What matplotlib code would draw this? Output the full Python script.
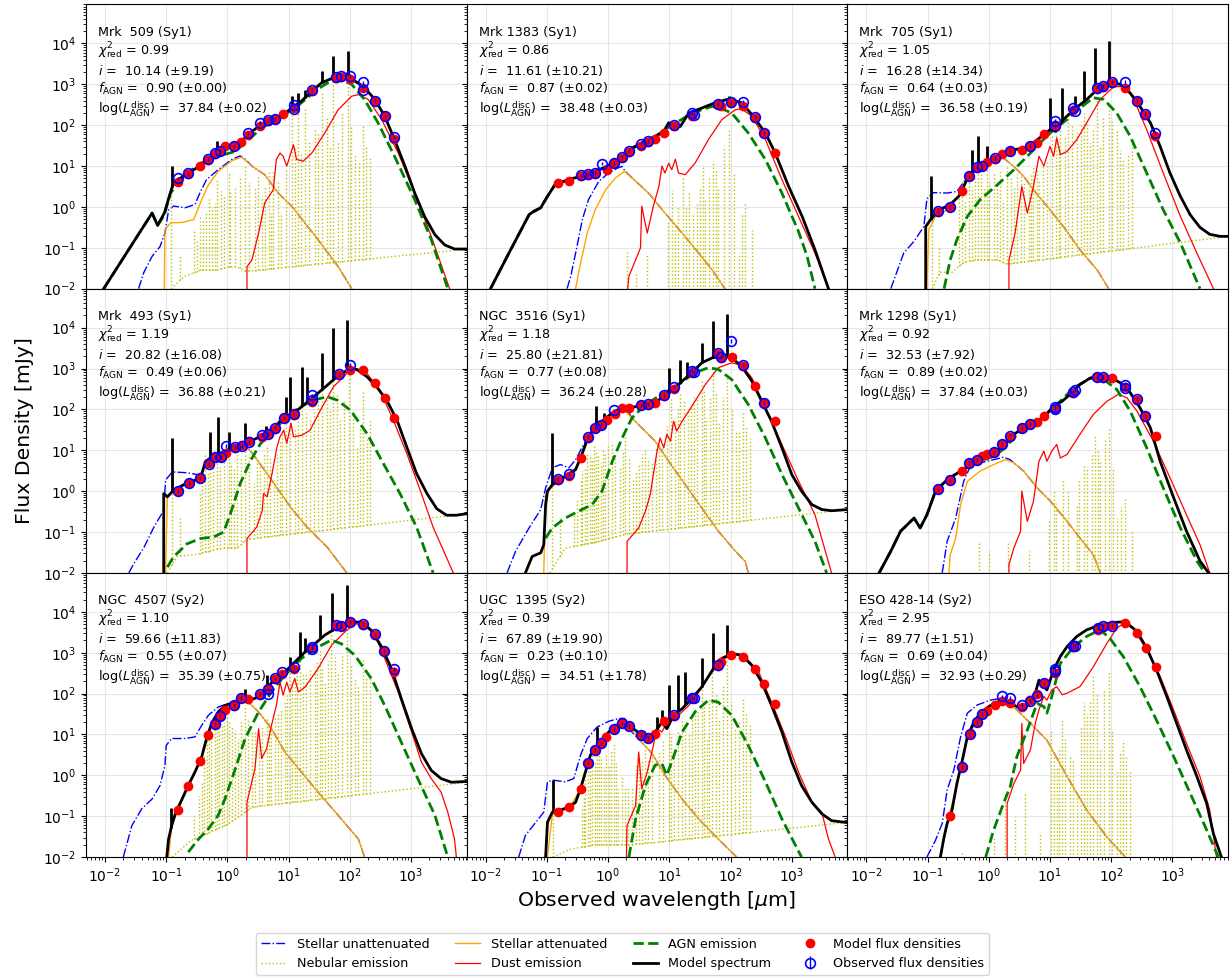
import numpy as np
import matplotlib.pyplot as plt

# fit results shown in each panel
names = ["Mrk  509 (Sy1)", "Mrk 1383 (Sy1)", "Mrk  705 (Sy1)",
         "Mrk  493 (Sy1)", "NGC  3516 (Sy1)", "Mrk 1298 (Sy1)",
         "NGC  4507 (Sy2)", "UGC  1395 (Sy2)", "ESO 428-14 (Sy2)"]
chi2_red = [0.99, 0.86, 1.05, 1.19, 1.18, 0.92, 1.10, 0.39, 2.95]
incl = [10.14, 11.61, 16.28, 20.82, 25.80, 32.53, 59.66, 67.89, 89.77]
incl_err = [9.19, 10.21, 14.34, 16.08, 21.81, 7.92, 11.83, 19.90, 1.51]
f_agn = [0.90, 0.87, 0.64, 0.49, 0.77, 0.89, 0.55, 0.23, 0.69]
f_agn_err = [0.00, 0.02, 0.03, 0.06, 0.08, 0.02, 0.07, 0.10, 0.04]
log_ldisc = [37.84, 38.48, 36.58, 36.88, 36.24, 37.84, 35.39, 34.51, 32.93]
log_ldisc_err = [0.02, 0.03, 0.19, 0.21, 0.28, 0.03, 0.75, 1.78, 0.29]

# all curves below: (log10 wavelength [um], log10 flux [mJy])
stellar_unatt = [
    [(-1.45, -2), (-1.37, -1.62), (-1.23, -1.21), (-1.1, -0.97), (-1.02, -0.64), (-0.96, -0.07), (-0.88, 0.02),
     (-0.69, -0.02), (-0.53, 0.06), (-0.45, 0.34), (-0.34, 0.67), (-0.15, 0.91), (0.07, 1.16), (0.21, 1.25),
     (0.29, 1.17), (0.4, 1.0), (0.61, 0.79), (0.83, 0.34), (1.05, 0.02), (1.48, -0.8), (1.81, -1.46), (2.03, -2)],
    [(-0.67, -2), (-0.61, -1.7), (-0.53, -1.13), (-0.42, -0.31), (-0.32, 0.18), (-0.15, 0.63), (0.01, 0.83),
     (0.15, 0.95), (0.23, 0.99), (0.28, 0.87), (0.45, 0.63), (0.66, 0.34), (0.93, -0.15), (1.21, -0.64),
     (1.48, -1.13), (1.7, -1.54), (1.91, -2)],
    [(-1.6, -2), (-1.39, -1.13), (-1.22, -0.84), (-1.06, -0.48), (-1.01, 0.2), (-0.9, 0.35), (-0.68, 0.34),
     (-0.52, 0.38), (-0.38, 0.67), (-0.19, 1.0), (0.03, 1.17), (0.19, 1.2), (0.24, 1.2), (0.41, 0.99),
     (0.57, 0.75), (0.73, 0.42), (0.95, 0.02), (1.22, -0.48), (1.49, -1.05), (1.77, -1.54), (1.96, -2)],
    [(-1.61, -2), (-1.53, -1.78), (-1.36, -1.37), (-1.2, -0.88), (-1.04, -0.47), (-1.01, 0.27), (-0.9, 0.47),
     (-0.66, 0.45), (-0.44, 0.39), (-0.36, 0.68), (-0.22, 0.84), (0.0, 1.0), (0.21, 1.12), (0.32, 1.08),
     (0.43, 0.88), (0.59, 0.55), (0.76, 0.19), (1.03, -0.39), (1.3, -0.88), (1.63, -1.37), (1.95, -2)],
    [(-1.65, -2), (-1.51, -1.47), (-1.29, -0.9), (-1.1, -0.45), (-1.02, 0.08), (-0.91, 0.57), (-0.78, 0.65),
     (-0.64, 0.57), (-0.53, 0.77), (-0.4, 1.14), (-0.26, 1.51), (-0.1, 1.71), (0.07, 1.88), (0.23, 1.96),
     (0.34, 1.92), (0.39, 1.79), (0.55, 1.55), (0.77, 1.22), (0.99, 0.73), (1.26, 0.16), (1.53, -0.41),
     (1.8, -0.98), (2.08, -1.47), (2.24, -1.72), (2.29, -2)],
    [(-0.76, -2), (-0.68, -1.23), (-0.54, -0.66), (-0.41, 0.24), (-0.3, 0.61), (-0.14, 0.69), (0.08, 0.77),
     (0.24, 0.83), (0.35, 0.77), (0.41, 0.69), (0.57, 0.49), (0.79, 0.08), (1.01, -0.25), (1.28, -0.74),
     (1.49, -1.15), (1.71, -1.56), (1.82, -2)],
    [(-1.7, -2), (-1.56, -1.23), (-1.4, -0.82), (-1.23, -0.58), (-1.1, -0.25), (-1.02, 0.24), (-1.0, 0.73),
     (-0.91, 0.9), (-0.69, 0.9), (-0.53, 0.94), (-0.42, 1.22), (-0.31, 1.47), (-0.15, 1.67), (0.07, 1.79),
     (0.23, 1.88), (0.32, 1.84), (0.4, 1.71), (0.51, 1.55), (0.72, 1.14), (0.94, 0.57), (1.21, 0.08),
     (1.48, -0.41), (1.81, -0.98), (2.14, -1.56), (2.24, -2)],
    [(-1.46, -2), (-1.35, -1.47), (-1.18, -1.15), (-1.05, -0.9), (-0.99, -0.16), (-0.89, -0.12), (-0.7, -0.16),
     (-0.56, -0.08), (-0.45, 0.49), (-0.34, 0.9), (-0.18, 1.18), (0.01, 1.32), (0.17, 1.39), (0.27, 1.39),
     (0.39, 1.06), (0.55, 0.81), (0.72, 0.53), (0.93, 0.0), (1.21, -0.58), (1.48, -1.07), (1.8, -1.56), (2.1, -2)],
    [(-1.01, -2), (-0.87, -1.59), (-0.76, -1.18), (-0.68, -0.36), (-0.57, 0.13), (-0.46, 0.94), (-0.35, 1.52),
     (-0.19, 1.72), (0.03, 1.84), (0.19, 1.88), (0.3, 1.84), (0.46, 1.6), (0.68, 1.27), (0.95, 0.86),
     (1.28, -0.03), (1.6, -0.85), (1.93, -1.51), (2.23, -2)],
]

stellar_att = [
    [(-1.03, -2), (-1.02, -0.56), (-0.93, -0.39), (-0.74, -0.38), (-0.55, -0.31), (-0.42, 0.18), (-0.31, 0.54),
     (-0.15, 0.87), (0.07, 1.13), (0.23, 1.22), (0.4, 1.0), (0.61, 0.79), (0.83, 0.34), (1.05, 0.02),
     (1.48, -0.8), (1.81, -1.46), (2.03, -2)],
    [(-0.53, -2), (-0.45, -1.38), (-0.34, -0.64), (-0.21, -0.07), (-0.04, 0.42), (0.12, 0.71), (0.27, 0.87),
     (0.45, 0.63), (0.66, 0.34), (0.93, -0.15), (1.21, -0.64), (1.48, -1.13), (1.7, -1.54), (1.91, -2)],
    [(-1.01, -2), (-0.98, -0.56), (-0.87, -0.23), (-0.68, -0.07), (-0.49, 0.26), (-0.35, 0.71), (-0.14, 1.0),
     (0.08, 1.16), (0.24, 1.2), (0.41, 0.99), (0.57, 0.75), (0.73, 0.42), (0.95, 0.02), (1.22, -0.48),
     (1.49, -1.05), (1.77, -1.54), (1.96, -2)],
    [(-1.01, -2), (-0.98, -0.14), (-0.88, 0.02), (-0.66, 0.19), (-0.44, 0.29), (-0.36, 0.68), (-0.22, 0.84),
     (0.0, 0.99), (0.21, 1.08), (0.32, 1.08), (0.43, 0.88), (0.59, 0.55), (0.76, 0.19), (1.03, -0.39),
     (1.3, -0.88), (1.63, -1.37), (1.95, -2)],
    [(-1.05, -2), (-1.02, -0.08), (-0.91, 0.12), (-0.7, 0.32), (-0.53, 0.49), (-0.45, 0.77), (-0.34, 1.22),
     (-0.21, 1.55), (-0.04, 1.75), (0.12, 1.88), (0.28, 1.96), (0.39, 1.79), (0.55, 1.55), (0.77, 1.22),
     (0.99, 0.73), (1.26, 0.16), (1.53, -0.41), (1.8, -0.98), (2.08, -1.47), (2.24, -1.72), (2.29, -2)],
    [(-0.65, -2), (-0.63, -1.56), (-0.54, -1.15), (-0.46, -0.33), (-0.35, 0.24), (-0.14, 0.49), (0.08, 0.65),
     (0.27, 0.77), (0.41, 0.69), (0.57, 0.49), (0.79, 0.08), (1.01, -0.25), (1.28, -0.74), (1.49, -1.15),
     (1.71, -1.56), (1.82, -2)],
    [(-0.96, -2), (-0.91, -1.23), (-0.74, -0.6), (-0.53, 0.05), (-0.42, 0.42), (-0.34, 0.88), (-0.26, 1.24),
     (-0.15, 1.52), (0.13, 1.77), (0.3, 1.8), (0.4, 1.71), (0.51, 1.55), (0.72, 1.14), (0.94, 0.57),
     (1.21, 0.08), (1.48, -0.41), (1.81, -0.98), (2.14, -1.56), (2.24, -2)],
    [(-0.99, -2), (-0.91, -0.95), (-0.64, -0.8), (-0.45, -0.35), (-0.29, 0.47), (-0.04, 0.96), (0.23, 1.28),
     (0.39, 1.1), (0.55, 0.81), (0.72, 0.53), (0.93, 0.0), (1.21, -0.58), (1.48, -1.07), (1.8, -1.56), (2.1, -2)],
    [(-0.79, -2), (-0.68, -1.2), (-0.52, -0.22), (-0.35, 0.92), (-0.14, 1.5), (0.24, 1.8), (0.46, 1.6),
     (0.68, 1.27), (0.95, 0.86), (1.28, -0.03), (1.6, -0.85), (1.93, -1.51), (2.23, -2)],
]

nebular_cont = [
    [(-0.92, -2), (-0.7, -1.7), (-0.45, -1.55), (-0.2, -1.55), (0.1, -1.45), (0.2, -1.5), (0.3, -1.58), (3.92, -1.03)],
    [(-1.0, -2.3), (3.92, -2.3)],
    [(-0.92, -2), (-0.8, -1.6), (-0.6, -1.6), (-0.4, -1.35), (-0.2, -1.3), (0.15, -1.3), (0.3, -1.4), (3.92, -0.72)],
    [(-0.98, -2), (-0.82, -1.6), (-0.5, -1.55), (-0.1, -1.4), (0.15, -1.4), (0.32, -1.18), (3.92, -0.55)],
    [(-0.95, -2), (-0.7, -1.4), (-0.2, -1.25), (0.3, -1.05), (3.92, -0.45)],
    [(-1.0, -2.3), (3.92, -2.3)],
    [(-0.9, -2), (-0.6, -1.6), (-0.3, -1.4), (0.0, -1.2), (0.2, -1.0), (0.4, -0.78), (3.92, -0.17)],
    [(-0.9, -2), (-0.6, -1.8), (-0.2, -1.7), (0.4, -1.7), (3.92, -1.15)],
    [(-1.0, -2.3), (3.92, -2.3)],
]

# nebular emission lines: (log10 wavelength, log10 peak)
nebular_lines = [
    [(-0.92, 0.34), (-0.77, -1.2), (-0.55, -0.6), (-0.45, -0.2), (-0.4, -0.3), (-0.3, 0.2), (-0.25, 0.0),
     (-0.17, 0.67), (-0.05, 0.3), (0.02, 0.83), (0.13, 0.5), (0.29, 1.0), (0.45, 0.5), (0.56, 0.26), (0.62, 0.5),
     (0.72, -0.15), (0.75, 0.9), (0.88, -0.15), (1.05, 2.38), (1.16, 2.45), (1.27, 2.45), (1.43, 1.9),
     (1.54, 2.83), (1.73, 3.1), (1.81, 1.6), (1.97, 2.95), (2.08, 1.3), (2.22, 2.0), (2.33, 1.2),
     (-0.5, -0.8), (-0.35, -0.1), (-0.2, 0.1), (-0.1, 0.4), (0.05, 0.4), (0.2, 0.7), (0.35, 0.6), (0.5, 0.8),
     (0.68, 0.9), (0.82, 0.6), (0.95, 0.9), (1.1, 1.5), (1.2, 1.3), (1.33, 1.6), (1.48, 1.8), (1.62, 2.2),
     (1.68, 1.5), (1.88, 2.3), (2.02, 2.0), (2.15, 1.1), (2.27, 1.5)],
    [(0.31, -1.05), (0.46, -1.64), (0.64, -1.15), (0.98, -0.35), (1.05, 0.42), (1.15, 0.0), (1.23, 0.75),
     (1.33, 0.34), (1.45, 0.06), (1.55, 1.0), (1.59, 0.18), (1.72, 1.12), (1.8, 0.5), (1.98, 1.93),
     (2.14, -1.13), (2.24, 0.1), (2.35, -0.56),
     (1.1, -0.5), (1.28, 0.0), (1.38, -0.2), (1.5, 0.5), (1.65, 0.7), (1.77, 0.9), (1.9, 1.5), (2.05, 0.8),
     (2.18, -0.2)],
    [(-0.92, -0.07), (-0.82, -0.97), (-0.43, 0.67), (-0.38, 0.18), (-0.27, 0.5), (-0.18, 0.99), (-0.08, 0.5),
     (-0.03, 0.99), (0.08, 0.83), (0.24, 0.18), (0.3, 0.99), (0.41, 0.5), (0.52, 0.75), (0.65, 0.5), (0.73, 0.99),
     (0.82, 0.67), (0.95, 1.16), (1.03, 1.73), (1.1, 1.97), (1.17, 1.89), (1.3, 2.3), (1.44, 1.89), (1.56, 2.3),
     (1.66, 1.57), (1.76, 2.67), (1.82, 1.48), (1.96, 2.55), (2.09, 1.89), (2.2, 1.16), (2.34, 1.57),
     (-0.48, 0.3), (-0.33, 0.6), (-0.23, 0.7), (-0.13, 0.8), (0.0, 0.6), (0.13, 0.6), (0.19, 0.9), (0.36, 0.7),
     (0.46, 0.8), (0.58, 0.6), (0.69, 0.8), (0.78, 0.9), (0.88, 1.0), (1.14, 1.5), (1.24, 1.7), (1.36, 2.0),
     (1.5, 2.0), (1.61, 2.1), (1.7, 1.9), (1.86, 2.2), (2.02, 2.1), (2.14, 1.4), (2.27, 1.3)],
    [(-0.9, 1.0), (-0.77, -0.67), (-0.41, 0.27), (-0.36, 0.92), (-0.29, 0.68), (-0.17, 0.92), (-0.06, 0.76),
     (0.02, 0.84), (0.1, 0.59), (0.29, 1.17), (0.43, 0.19), (0.54, 0.68), (0.65, 1.08), (0.76, 0.27),
     (0.86, 1.25), (0.95, 1.98), (1.03, 2.06), (1.11, 1.57), (1.22, 2.55), (1.35, 1.74), (1.54, 2.47),
     (1.73, 2.96), (1.84, 1.74), (1.98, 3.13), (2.11, 1.08), (2.22, 2.47), (2.33, 1.74),
     (-0.45, 0.0), (-0.32, 0.5), (-0.24, 0.7), (-0.12, 0.6), (0.06, 0.7), (0.15, 0.9), (0.22, 0.8), (0.36, 0.9),
     (0.48, 0.7), (0.6, 0.9), (0.7, 0.8), (0.81, 0.9), (0.9, 1.5), (1.16, 2.0), (1.28, 1.9), (1.42, 2.0),
     (1.48, 2.2), (1.62, 2.3), (1.68, 2.0), (1.79, 2.4), (1.9, 2.2), (2.05, 2.0), (2.17, 1.6), (2.28, 1.3)],
    [(-0.91, 0.2), (-0.78, -0.6), (-0.55, -0.5), (-0.45, 0.3), (-0.38, 0.6), (-0.34, 0.9), (-0.27, 0.8),
     (-0.2, 1.0), (-0.12, 0.7), (-0.05, 0.9), (0.07, 1.2), (0.2, 0.6), (0.28, 1.4), (0.4, 0.3), (0.5, 0.7),
     (0.6, 1.0), (0.72, 0.7), (0.88, 1.2), (0.96, 1.6), (1.02, 2.3), (1.1, 1.8), (1.18, 2.4), (1.3, 2.0),
     (1.4, 2.3), (1.53, 2.7), (1.6, 1.8), (1.72, 3.0), (1.82, 1.7), (1.95, 2.9), (2.09, 1.5), (2.2, 1.9),
     (2.32, 1.3),
     (-0.5, -0.2), (-0.42, 0.5), (-0.3, 0.9), (-0.23, 1.1), (-0.16, 0.9), (-0.08, 1.0), (0.0, 1.1), (0.12, 0.9),
     (0.24, 1.0), (0.34, 0.8), (0.45, 0.5), (0.55, 0.9), (0.66, 0.8), (0.78, 1.1), (0.84, 1.3), (1.14, 2.0),
     (1.24, 2.2), (1.35, 2.1), (1.46, 2.3), (1.57, 2.5), (1.66, 2.3), (1.77, 2.4), (1.88, 2.3), (2.02, 2.0),
     (2.14, 1.5), (2.26, 1.6)],
    [(-0.16, -1.27), (0.0, -1.47), (0.32, -1.23), (0.65, -1.47), (0.98, -0.7), (1.06, 0.0), (1.22, 0.33),
     (1.44, -0.33), (1.55, 0.65), (1.74, 1.35), (1.82, 0.73), (1.97, 1.51), (2.09, -0.66), (2.23, -0.16),
     (2.34, -0.94),
     (1.1, -0.3), (1.3, 0.0), (1.48, 0.3), (1.6, 0.6), (1.68, 0.9), (1.78, 1.0), (1.9, 1.3), (2.03, 0.6),
     (2.16, -0.4)],
    [(-0.55, -1.0), (-0.42, -0.16), (-0.34, 0.9), (-0.26, 1.14), (-0.17, 1.39), (-0.09, 1.22), (-0.01, 1.47),
     (0.07, 1.22), (0.18, 0.9), (0.29, 1.71), (0.4, 1.06), (0.51, 0.9), (0.64, 1.39), (0.72, 1.14), (0.83, 1.55),
     (0.94, 1.79), (1.02, 2.61), (1.1, 2.37), (1.18, 2.86), (1.29, 2.53), (1.43, 2.61), (1.51, 3.1),
     (1.59, 2.28), (1.7, 3.59), (1.81, 2.53), (1.95, 3.75), (2.08, 2.37), (2.22, 2.86), (2.33, 2.37),
     (-0.47, -0.5), (-0.38, 0.5), (-0.3, 1.0), (-0.21, 1.2), (-0.13, 1.3), (-0.05, 1.3), (0.03, 1.3), (0.12, 1.1),
     (0.23, 1.3), (0.34, 1.4), (0.45, 1.1), (0.57, 1.2), (0.68, 1.3), (0.78, 1.4), (0.88, 1.6), (0.98, 2.0),
     (1.06, 2.3), (1.14, 2.5), (1.23, 2.5), (1.35, 2.6), (1.47, 2.8), (1.55, 2.6), (1.64, 2.8), (1.76, 2.9),
     (1.88, 3.0), (2.02, 2.7), (2.14, 2.2), (2.27, 2.4)],
    [(-0.9, -0.9), (-0.42, -0.74), (-0.37, 0.0), (-0.29, 0.41), (-0.22, 0.3), (-0.15, 0.57), (-0.07, 0.2),
     (0.01, 0.24), (0.09, 0.81), (0.17, -0.33), (0.28, -0.25), (0.39, -0.25), (0.5, 0.49), (0.61, 0.65),
     (0.83, 0.57), (0.99, 1.06), (1.07, 0.49), (1.21, 1.39), (1.32, 1.06), (1.42, 1.55), (1.53, 2.12),
     (1.61, 0.9), (1.7, 2.53), (1.81, 1.39), (1.94, 2.86), (2.08, 1.14), (2.21, 1.88), (2.32, 1.22),
     (-0.4, -0.5), (-0.33, 0.3), (-0.26, 0.5), (-0.18, 0.5), (-0.11, 0.4), (-0.03, 0.5), (0.05, 0.6), (0.13, 0.3),
     (0.22, 0.0), (0.33, -0.3), (0.45, 0.3), (0.55, 0.4), (0.66, 0.4), (0.72, 0.5), (0.9, 0.9), (1.03, 1.0),
     (1.14, 1.1), (1.26, 1.3), (1.37, 1.5), (1.47, 1.6), (1.57, 1.8), (1.65, 1.9), (1.76, 2.0), (1.87, 2.2),
     (2.0, 1.8), (2.14, 1.3), (2.26, 1.5)],
    [(-0.43, -1.87), (0.08, -1.5), (0.27, -0.44), (0.43, -1.02), (0.6, -0.46), (0.84, -1.38), (1.01, 1.11),
     (1.11, 0.21), (1.2, 1.35), (1.33, 0.46), (1.44, -0.53), (1.55, 1.76), (1.71, 2.42), (1.82, 0.62),
     (1.96, 2.58), (2.09, 0.13), (2.2, 0.86), (2.31, 0.13),
     (1.06, 0.5), (1.15, 0.7), (1.25, 0.9), (1.38, 0.4), (1.5, 1.2), (1.6, 1.5), (1.66, 1.8), (1.76, 2.0),
     (1.88, 2.1), (2.02, 1.1), (2.14, 0.6), (2.25, 0.5)],
]

dust = [
    [(0.32, -2), (0.32, -1.46), (0.4, -1.3), (0.51, -0.64), (0.61, 0.1), (0.75, 0.42), (0.8, 1.16), (0.86, 1.32),
     (0.91, 1.24), (0.97, 1.0), (1.02, 1.24), (1.08, 1.52), (1.13, 1.16), (1.24, 1.12), (1.38, 1.32),
     (1.59, 1.81), (1.81, 2.38), (2.03, 2.71), (2.14, 2.75), (2.3, 2.63), (2.52, 2.14), (2.79, 1.32),
     (3.06, 0.34), (3.33, -0.72), (3.63, -2)],
    [(0.32, -2), (0.34, -1.7), (0.53, -1.0), (0.55, 0.02), (0.64, -0.64), (0.74, 0.02), (0.83, 0.5), (0.88, 1.0),
     (0.93, 0.83), (0.99, 1.07), (1.04, 0.91), (1.1, 1.17), (1.15, 0.83), (1.26, 0.79), (1.42, 1.07),
     (1.64, 1.65), (1.86, 2.14), (2.08, 2.38), (2.18, 2.4), (2.35, 2.22), (2.57, 1.65), (2.84, 0.67),
     (3.11, -0.23), (3.38, -1.13), (3.6, -2)],
    [(0.33, -2), (0.33, -1.3), (0.43, -0.64), (0.54, 0.5), (0.63, -0.15), (0.73, 0.5), (0.82, 1.24), (0.9, 1.0),
     (0.95, 1.24), (1.0, 1.48), (1.06, 1.24), (1.11, 1.69), (1.17, 1.28), (1.28, 1.36), (1.44, 1.65),
     (1.6, 2.06), (1.82, 2.63), (2.04, 2.94), (2.2, 2.95), (2.36, 2.67), (2.58, 1.89), (2.85, 0.83),
     (3.13, -0.23), (3.4, -1.13), (3.67, -2)],
    [(0.32, -2), (0.32, -1.16), (0.48, -0.88), (0.57, -0.47), (0.59, -0.06), (0.65, -0.14), (0.73, 0.43),
     (0.81, 1.08), (0.86, 1.33), (0.92, 1.49), (0.97, 1.17), (1.04, 1.66), (1.08, 1.33), (1.22, 1.37),
     (1.35, 1.49), (1.52, 1.98), (1.73, 2.55), (1.95, 2.88), (2.11, 3.0), (2.28, 2.88), (2.49, 2.47),
     (2.71, 1.74), (2.93, 0.92), (3.15, 0.02), (3.36, -0.88), (3.69, -2)],
    [(0.31, -2), (0.31, -1.23), (0.5, -0.9), (0.61, -0.49), (0.69, -0.08), (0.74, 0.41), (0.8, 0.98), (0.85, 1.3),
     (0.91, 1.06), (0.96, 1.39), (1.02, 1.22), (1.07, 1.71), (1.12, 1.47), (1.21, 1.71), (1.37, 2.08),
     (1.59, 2.61), (1.8, 3.02), (2.02, 3.14), (2.18, 3.08), (2.35, 2.77), (2.57, 2.04), (2.84, 1.14),
     (3.11, 0.25), (3.38, -0.58), (3.65, -2)],
    [(0.33, -2), (0.33, -1.8), (0.41, -1.39), (0.52, -0.98), (0.54, 0.0), (0.63, -0.74), (0.73, -0.25),
     (0.82, 0.73), (0.9, 0.98), (0.95, 0.73), (1.03, 0.98), (1.11, 1.14), (1.17, 0.81), (1.28, 0.9),
     (1.49, 1.39), (1.71, 1.88), (1.93, 2.2), (2.12, 2.37), (2.26, 2.28), (2.42, 1.96), (2.69, 1.22),
     (2.96, 0.33), (3.23, -0.58), (3.45, -1.31), (3.61, -2)],
    [(0.32, -2), (0.32, -0.66), (0.45, 0.16), (0.51, 1.14), (0.56, 0.41), (0.64, 0.65), (0.72, 1.22), (0.8, 1.71),
     (0.86, 2.28), (0.91, 1.96), (0.97, 2.28), (1.02, 2.04), (1.1, 2.37), (1.16, 2.04), (1.27, 2.16),
     (1.48, 2.61), (1.7, 3.18), (1.92, 3.51), (2.08, 3.71), (2.24, 3.67), (2.41, 3.43), (2.57, 2.86),
     (2.79, 2.04), (3.01, 1.06), (3.17, 0.32), (3.33, -0.08), (3.49, -0.41), (3.6, -0.9), (3.71, -1.56),
     (3.74, -2)],
    [(0.3, -2), (0.31, -1.23), (0.45, -0.74), (0.5, 0.57), (0.55, -0.33), (0.64, 0.08), (0.74, 0.73), (0.8, 1.14),
     (0.88, 1.06), (0.96, 1.3), (1.04, 1.39), (1.15, 1.47), (1.32, 1.71), (1.48, 2.04), (1.7, 2.53),
     (1.91, 2.87), (2.08, 2.95), (2.24, 2.9), (2.46, 2.53), (2.67, 1.79), (2.89, 0.98), (3.11, 0.08),
     (3.33, -0.66), (3.49, -0.9), (3.6, -1.56), (3.71, -2)],
    [(0.3, -2), (0.3, -0.69), (0.41, -0.2), (0.52, 0.13), (0.54, 1.27), (0.57, 0.29), (0.68, 0.62), (0.76, 1.27),
     (0.82, 1.6), (0.9, 1.93), (0.95, 1.84), (1.03, 2.09), (1.11, 2.17), (1.2, 1.97), (1.28, 2.01),
     (1.49, 2.17), (1.71, 2.66), (1.93, 3.23), (2.09, 3.6), (2.2, 3.71), (2.36, 3.6), (2.58, 3.07),
     (2.8, 2.42), (3.02, 1.6), (3.23, 0.78), (3.45, -0.03), (3.61, -0.85), (3.72, -2)],
]

agn = [
    [(-2.02, -2), (-1.23, -0.15), (-1.14, -0.45), (-1.03, -0.2), (-0.93, 0.34), (-0.69, 0.79), (-0.42, 1.08),
     (-0.15, 1.24), (0.13, 1.36), (0.29, 1.57), (0.56, 1.93), (0.94, 2.26), (1.21, 2.55), (1.48, 2.89),
     (1.7, 3.09), (1.86, 3.12), (2.03, 3.0), (2.24, 2.63), (2.46, 2.06), (2.73, 1.24), (3.06, 0.18),
     (3.33, -0.8), (3.6, -2)],
    [(-1.92, -2), (-1.62, -1.13), (-1.29, -0.19), (-1.1, -0.02), (-0.99, 0.26), (-0.86, 0.56), (-0.45, 0.75),
     (-0.04, 0.97), (0.23, 1.2), (0.39, 1.42), (0.55, 1.55), (0.77, 1.71), (0.99, 1.95), (1.32, 2.25),
     (1.53, 2.38), (1.7, 2.46), (1.86, 2.4), (2.02, 2.3), (2.29, 1.81), (2.57, 1.16), (2.84, 0.34),
     (3.11, -0.6), (3.25, -1.2), (3.38, -2)],
    [(-0.73, -2), (-0.63, -1.3), (-0.52, -0.8), (-0.35, -0.23), (-0.14, 0.18), (0.14, 0.54), (0.41, 0.91),
     (0.63, 1.24), (0.84, 1.57), (1.06, 1.89), (1.28, 2.14), (1.49, 2.42), (1.71, 2.67), (1.88, 2.63),
     (2.09, 2.3), (2.31, 1.73), (2.58, 0.83), (2.85, -0.07), (3.13, -0.88), (3.45, -2)],
    [(-0.98, -1.86), (-0.88, -1.61), (-0.66, -1.29), (-0.44, -1.16), (-0.22, -1.12), (-0.06, -1.0),
     (0.05, -0.55), (0.21, 0.19), (0.38, 0.75), (0.54, 1.16), (0.76, 1.49), (0.97, 1.82), (1.19, 2.06),
     (1.41, 2.23), (1.63, 2.31), (1.79, 2.23), (2.01, 1.98), (2.28, 1.41), (2.55, 0.67), (2.82, -0.06),
     (3.09, -0.88), (3.36, -2)],
    [(-1.02, -1.15), (-0.91, -0.9), (-0.7, -0.66), (-0.48, -0.49), (-0.26, -0.33), (-0.1, 0.0), (0.07, 0.73),
     (0.23, 1.3), (0.39, 1.79), (0.61, 2.12), (0.88, 2.37), (1.15, 2.61), (1.42, 2.9), (1.64, 3.02),
     (1.8, 2.98), (2.02, 2.73), (2.29, 2.12), (2.57, 1.3), (2.84, 0.41), (3.11, -0.41), (3.38, -1.23),
     (3.57, -2)],
    [(-1.79, -2), (-1.6, -1.47), (-1.44, -0.98), (-1.22, -0.66), (-1.12, -0.9), (-1.01, -0.58), (-0.87, 0.0),
     (-0.68, 0.28), (-0.46, 0.49), (-0.3, 0.61), (-0.14, 0.73), (0.08, 0.85), (0.27, 1.06), (0.46, 1.39),
     (0.73, 1.63), (1.06, 2.04), (1.39, 2.53), (1.66, 2.76), (1.88, 2.73), (2.09, 2.49), (2.31, 1.96),
     (2.58, 1.06), (2.85, 0.08), (3.13, -0.9), (3.4, -1.71), (3.53, -2)],
    [(-0.64, -1.88), (-0.47, -1.56), (-0.31, -1.31), (-0.15, -0.98), (-0.04, -0.58), (0.13, 0.16), (0.29, 0.9),
     (0.51, 1.55), (0.72, 2.04), (0.94, 2.45), (1.21, 2.86), (1.48, 3.14), (1.7, 3.31), (1.86, 3.22),
     (2.08, 2.94), (2.35, 2.37), (2.57, 1.71), (2.84, 0.81), (3.11, -0.08), (3.39, -0.98), (3.6, -2)],
    [(0.34, -2), (0.45, -1.07), (0.61, -0.25), (0.77, 0.25), (0.88, 0.28), (0.96, 0.0), (1.04, 0.33),
     (1.21, 1.06), (1.42, 1.55), (1.64, 1.84), (1.8, 1.79), (2.02, 1.47), (2.29, 0.73), (2.57, -0.16),
     (2.84, -1.07), (3.16, -2)],
    [(-0.05, -2), (0.08, -1.34), (0.24, -0.69), (0.35, -0.28), (0.46, 0.46), (0.63, 1.11), (0.79, 1.76),
     (0.9, 1.68), (0.95, 1.52), (1.03, 1.93), (1.17, 2.74), (1.39, 3.15), (1.6, 3.4), (1.82, 3.56),
     (1.98, 3.35), (2.2, 2.9), (2.47, 2.17), (2.74, 1.35), (3.02, 0.46), (3.29, -0.44), (3.56, -1.34),
     (3.75, -2)],
]

model = [
    [(-2.02, -2.0), (-1.23, -0.15), (-1.14, -0.45), (-1.03, -0.15), (-0.9, 0.5), (-0.85, 0.62), (-0.64, 0.83),
     (-0.45, 1.0), (-0.31, 1.17), (-0.12, 1.36), (0.1, 1.5), (0.23, 1.6), (0.34, 1.78), (0.53, 1.99),
     (0.78, 2.14), (0.91, 2.26), (1.08, 2.45), (1.21, 2.59), (1.38, 2.83), (1.54, 3.04), (1.7, 3.14),
     (1.86, 3.18), (2.03, 3.13), (2.22, 2.95), (2.41, 2.63), (2.57, 2.22), (2.73, 1.65), (2.9, 1.0),
     (3.06, 0.34), (3.22, -0.23), (3.39, -0.68), (3.55, -0.93), (3.71, -1.03), (3.92, -1.03)],
    [(-1.92, -2), (-1.62, -1.13), (-1.29, -0.19), (-1.21, -0.1), (-1.1, -0.02), (-0.99, 0.26), (-0.86, 0.56),
     (-0.64, 0.67), (-0.45, 0.75), (-0.21, 0.87), (-0.04, 0.98), (0.09, 1.08), (0.23, 1.24), (0.39, 1.44),
     (0.55, 1.57), (0.77, 1.73), (0.91, 1.85), (0.99, 2.06), (1.07, 1.97), (1.18, 1.97), (1.32, 2.3),
     (1.53, 2.42), (1.75, 2.55), (1.97, 2.64), (2.18, 2.55), (2.35, 2.26), (2.57, 1.81), (2.73, 1.32),
     (2.95, 0.5), (3.17, -0.23), (3.38, -1.05), (3.6, -2)],
    [(-1.03, -2), (-1.03, -0.48), (-0.95, -0.31), (-0.82, -0.08), (-0.63, 0.06), (-0.49, 0.26), (-0.41, 0.5),
     (-0.33, 0.75), (-0.19, 0.95), (-0.03, 1.09), (0.11, 1.2), (0.24, 1.3), (0.41, 1.4), (0.57, 1.44),
     (0.73, 1.57), (0.9, 1.77), (1.0, 1.89), (1.09, 1.85), (1.22, 2.14), (1.39, 2.38), (1.6, 2.63),
     (1.77, 2.87), (1.98, 3.04), (2.15, 3.0), (2.31, 2.79), (2.47, 2.46), (2.64, 2.06), (2.8, 1.48),
     (2.96, 0.83), (3.13, 0.26), (3.29, -0.19), (3.45, -0.5), (3.61, -0.67), (3.78, -0.72), (3.92, -0.72)],
    [(-1.04, -2), (-1.04, -0.06), (-0.98, -0.14), (-0.88, 0.02), (-0.66, 0.2), (-0.44, 0.31), (-0.36, 0.72),
     (-0.22, 0.88), (-0.06, 0.96), (0.1, 1.08), (0.27, 1.17), (0.43, 1.26), (0.59, 1.37), (0.76, 1.53),
     (0.92, 1.82), (1.08, 1.9), (1.24, 2.1), (1.41, 2.31), (1.6, 2.55), (1.79, 2.8), (1.98, 2.98),
     (2.11, 2.98), (2.28, 2.8), (2.44, 2.55), (2.6, 2.23), (2.77, 1.74), (2.93, 1.08), (3.09, 0.43),
     (3.26, -0.06), (3.42, -0.43), (3.58, -0.59), (3.74, -0.59), (3.92, -0.55)],
    [(-1.35, -2), (-1.24, -1.6), (-1.1, -1.51), (-1.05, -1.31), (-1.02, -0.33), (-0.99, 0.0), (-0.91, 0.16),
     (-0.7, 0.36), (-0.53, 0.53), (-0.45, 0.81), (-0.34, 1.26), (-0.23, 1.55), (-0.1, 1.71), (0.04, 1.88),
     (0.17, 2.0), (0.34, 2.04), (0.5, 2.08), (0.72, 2.14), (0.88, 2.28), (1.04, 2.45), (1.21, 2.69),
     (1.37, 2.9), (1.53, 3.14), (1.7, 3.26), (1.86, 3.31), (2.02, 3.26), (2.18, 3.06), (2.35, 2.69),
     (2.51, 2.2), (2.67, 1.71), (2.84, 1.06), (3.0, 0.41), (3.16, 0.0), (3.33, -0.33), (3.49, -0.45),
     (3.65, -0.48), (3.92, -0.45)],
    [(-1.79, -2), (-1.6, -1.47), (-1.44, -0.98), (-1.22, -0.66), (-1.12, -0.9), (-1.01, -0.58), (-0.87, 0.0),
     (-0.68, 0.28), (-0.46, 0.49), (-0.3, 0.65), (-0.14, 0.81), (0.03, 0.94), (0.16, 1.02), (0.27, 1.14),
     (0.41, 1.39), (0.57, 1.55), (0.73, 1.65), (0.9, 1.81), (1.06, 2.08), (1.2, 2.2), (1.33, 2.37),
     (1.49, 2.61), (1.66, 2.77), (1.82, 2.82), (1.98, 2.79), (2.15, 2.65), (2.31, 2.41), (2.47, 2.04),
     (2.64, 1.55), (2.8, 0.73), (3.02, -0.16), (3.23, -0.98), (3.45, -1.71), (3.59, -2)],
    [(-0.99, -2), (-0.96, -1.56), (-0.91, -1.23), (-0.85, -0.94), (-0.74, -0.58), (-0.64, -0.25), (-0.53, 0.08),
     (-0.42, 0.45), (-0.34, 0.9), (-0.26, 1.26), (-0.15, 1.55), (-0.04, 1.71), (0.13, 1.79), (0.23, 1.88),
     (0.37, 1.84), (0.51, 1.92), (0.64, 2.12), (0.78, 2.37), (0.94, 2.53), (1.1, 2.77), (1.27, 3.02),
     (1.43, 3.22), (1.59, 3.43), (1.81, 3.63), (2.03, 3.75), (2.19, 3.75), (2.35, 3.55), (2.52, 3.14),
     (2.68, 2.61), (2.84, 1.88), (3.01, 1.14), (3.17, 0.53), (3.33, 0.12), (3.49, -0.08), (3.66, -0.17),
     (3.92, -0.15)],
    [(-1.02, -2), (-0.99, -1.15), (-0.91, -0.9), (-0.8, -0.86), (-0.64, -0.78), (-0.53, -0.66), (-0.45, -0.33),
     (-0.37, 0.08), (-0.29, 0.49), (-0.18, 0.73), (-0.04, 0.98), (0.09, 1.18), (0.23, 1.3), (0.34, 1.22),
     (0.45, 1.1), (0.55, 0.98), (0.66, 0.9), (0.77, 1.06), (0.88, 1.3), (0.96, 1.14), (1.07, 1.47),
     (1.21, 1.63), (1.37, 1.88), (1.53, 2.16), (1.72, 2.61), (1.86, 2.86), (2.02, 2.98), (2.18, 2.94),
     (2.35, 2.69), (2.51, 2.28), (2.67, 1.71), (2.84, 1.06), (3.0, 0.33), (3.16, -0.25), (3.33, -0.66),
     (3.49, -0.94), (3.65, -1.11), (3.92, -1.16)],
    [(-0.79, -2), (-0.73, -1.51), (-0.68, -1.18), (-0.6, -0.85), (-0.52, -0.2), (-0.43, 0.38), (-0.35, 0.94),
     (-0.24, 1.31), (-0.14, 1.52), (0.0, 1.68), (0.11, 1.78), (0.24, 1.84), (0.35, 1.76), (0.46, 1.68),
     (0.57, 1.64), (0.68, 1.76), (0.76, 2.01), (0.82, 2.33), (0.87, 2.21), (0.95, 2.09), (1.06, 2.58),
     (1.17, 2.91), (1.28, 3.15), (1.44, 3.4), (1.6, 3.56), (1.82, 3.68), (2.04, 3.74), (2.23, 3.76),
     (2.42, 3.52), (2.58, 3.11), (2.74, 2.58), (2.91, 1.92), (3.07, 1.27), (3.23, 0.62), (3.4, -0.03),
     (3.56, -0.69), (3.67, -1.43), (3.8, -2)],
]

# emission-line spikes on top of the model spectrum: (log10 wavelength, log10 peak)
model_lines = [
    [(-0.9, 1.0), (-0.17, 1.62), (-0.09, 1.45), (0.02, 1.53), (1.05, 2.71), (1.16, 2.8), (1.27, 2.85),
     (1.54, 3.32), (1.73, 3.69), (1.97, 3.81)],
    [(1.97, 2.72)],
    [(-0.95, 0.75), (-0.27, 1.4), (-0.18, 1.73), (-0.03, 1.48), (1.0, 2.67), (1.2, 2.91), (1.41, 2.71),
     (1.55, 3.32), (1.74, 3.89), (1.96, 4.06)],
    [(-0.9, 1.29), (-0.29, 1.45), (-0.16, 1.82), (0.02, 1.45), (0.29, 1.66), (0.63, 1.6), (0.95, 2.31),
     (1.03, 2.8), (1.22, 3.04), (1.3, 2.8), (1.54, 3.37), (1.73, 3.98), (1.95, 4.19)],
    [(-0.91, 1.43), (-0.2, 2.08), (-0.07, 1.9), (1.0, 3.02), (1.18, 3.22), (1.29, 3.15), (1.53, 3.63),
     (1.72, 4.16), (1.95, 4.34)],
    [],
    [(-0.92, -0.8), (0.29, 2.12), (0.64, 2.45), (1.02, 2.9), (1.18, 3.51), (1.27, 3.35), (1.51, 3.92),
     (1.71, 4.47), (1.95, 4.65)],
    [(-0.9, -0.12), (-0.18, 1.18), (0.8, 1.43), (0.88, 1.6), (1.0, 2.2), (1.15, 2.45), (1.26, 2.53),
     (1.53, 2.86), (1.72, 3.47), (1.94, 3.67)],
    [],
]

model_fluxes = [
    [(-0.81, 0.62), (-0.65, 0.81), (-0.45, 1.0), (-0.31, 1.14), (-0.21, 1.3), (-0.12, 1.38), (-0.04, 1.48),
     (0.11, 1.48), (0.23, 1.6), (0.34, 1.77), (0.54, 1.99), (0.66, 2.1), (0.78, 2.14), (0.91, 2.28),
     (1.08, 2.42), (1.38, 2.83), (1.78, 3.16), (1.85, 3.18), (2.0, 3.12), (2.22, 2.91), (2.41, 2.59),
     (2.57, 2.22), (2.72, 1.66)],
    [(-0.82, 0.58), (-0.63, 0.64), (-0.45, 0.75), (-0.32, 0.79), (-0.21, 0.8), (-0.02, 0.91), (0.1, 1.08),
     (0.22, 1.2), (0.34, 1.34), (0.53, 1.5), (0.66, 1.6), (0.77, 1.67), (0.92, 1.8), (1.07, 1.97), (1.37, 2.22),
     (1.8, 2.5), (1.85, 2.48), (2.0, 2.55), (2.2, 2.48), (2.4, 2.18), (2.55, 1.81), (2.72, 1.32)],
    [(-0.83, -0.13), (-0.64, 0.0), (-0.43, 0.38), (-0.33, 0.75), (-0.2, 0.95), (-0.11, 0.99), (-0.03, 1.09),
     (0.11, 1.17), (0.22, 1.3), (0.34, 1.36), (0.54, 1.4), (0.67, 1.48), (0.79, 1.57), (0.91, 1.79),
     (1.09, 2.01), (1.38, 2.38), (1.77, 2.89), (1.86, 2.94), (2.01, 3.04), (2.23, 2.91), (2.42, 2.59),
     (2.55, 2.26), (2.72, 1.73)],
    [(-0.8, 0.0), (-0.63, 0.19), (-0.44, 0.31), (-0.3, 0.69), (-0.2, 0.84), (-0.11, 0.84), (-0.02, 0.93),
     (0.13, 1.06), (0.24, 1.12), (0.35, 1.23), (0.57, 1.33), (0.67, 1.39), (0.78, 1.53), (0.92, 1.78),
     (1.08, 1.86), (1.38, 2.19), (1.82, 2.84), (2.01, 2.96), (2.22, 2.96), (2.41, 2.64), (2.58, 2.27),
     (2.72, 1.79)],
    [(-0.82, 0.27), (-0.63, 0.36), (-0.45, 0.81), (-0.32, 1.3), (-0.21, 1.55), (-0.11, 1.63), (-0.02, 1.75),
     (0.12, 1.89), (0.23, 2.04), (0.34, 2.04), (0.53, 2.1), (0.66, 2.1), (0.77, 2.16), (0.92, 2.33),
     (1.07, 2.49), (1.37, 2.9), (1.79, 3.35), (1.85, 3.26), (2.02, 3.28), (2.21, 3.06), (2.4, 2.57),
     (2.55, 2.16), (2.72, 1.71)],
    [(-0.83, 0.04), (-0.64, 0.28), (-0.43, 0.5), (-0.33, 0.69), (-0.19, 0.76), (-0.11, 0.85), (-0.03, 0.9),
     (0.08, 0.95), (0.22, 1.16), (0.34, 1.32), (0.54, 1.55), (0.67, 1.65), (0.79, 1.69), (0.91, 1.83),
     (1.09, 2.0), (1.38, 2.41), (1.77, 2.79), (1.86, 2.76), (2.01, 2.77), (2.23, 2.55), (2.42, 2.22),
     (2.55, 1.84), (2.73, 1.35)],
    [(-0.81, -0.84), (-0.64, -0.27), (-0.45, 0.34), (-0.31, 0.98), (-0.21, 1.26), (-0.12, 1.45), (-0.04, 1.59),
     (0.11, 1.7), (0.23, 1.88), (0.34, 1.86), (0.54, 1.96), (0.66, 2.12), (0.78, 2.35), (0.9, 2.49),
     (1.08, 2.61), (1.38, 3.12), (1.78, 3.66), (1.85, 3.66), (2.01, 3.75), (2.22, 3.67), (2.41, 3.43),
     (2.56, 3.04), (2.72, 2.53)],
    [(-0.82, -0.89), (-0.63, -0.78), (-0.45, -0.33), (-0.32, 0.31), (-0.21, 0.63), (-0.11, 0.78), (-0.03, 0.94),
     (0.1, 1.14), (0.22, 1.27), (0.34, 1.21), (0.53, 0.99), (0.66, 0.91), (0.77, 1.02), (0.92, 1.34),
     (1.07, 1.45), (1.37, 1.88), (1.79, 2.68), (1.85, 2.77), (2.01, 2.94), (2.2, 2.9), (2.4, 2.59),
     (2.55, 2.24), (2.72, 1.74)],
    [(-0.63, -1.0), (-0.43, 0.21), (-0.31, 1.0), (-0.2, 1.31), (-0.11, 1.5), (-0.03, 1.58), (0.11, 1.72),
     (0.22, 1.83), (0.34, 1.78), (0.55, 1.68), (0.67, 1.84), (0.78, 1.99), (0.91, 2.25), (1.09, 2.5),
     (1.38, 3.15), (1.79, 3.56), (1.86, 3.64), (2.02, 3.68), (2.23, 3.72), (2.42, 3.48), (2.57, 3.11),
     (2.73, 2.64)],
]

obs_fluxes = [
    [(-0.81, 0.7), (-0.65, 0.82), (-0.31, 1.17), (-0.21, 1.33), (-0.12, 1.38), (0.11, 1.48), (0.34, 1.8),
     (0.54, 2.05), (0.66, 2.12), (0.78, 2.16), (1.08, 2.5), (1.08, 2.4), (1.38, 2.86), (1.78, 3.19),
     (1.85, 3.2), (2.0, 3.2), (2.22, 3.05), (2.22, 2.85), (2.41, 2.6), (2.57, 2.22), (2.72, 1.7)],
    [(-0.45, 0.77), (-0.32, 0.8), (-0.21, 0.83), (-0.1, 1.06), (0.1, 1.08), (0.22, 1.22), (0.34, 1.38),
     (0.53, 1.55), (0.66, 1.62), (1.07, 2.0), (1.37, 2.3), (1.4, 2.25), (1.8, 2.52), (2.0, 2.57), (2.2, 2.57),
     (2.4, 2.2), (2.55, 1.81)],
    [(-0.83, -0.1), (-0.64, 0.0), (-0.33, 0.75), (-0.2, 0.97), (-0.11, 0.99), (0.11, 1.2), (0.34, 1.38),
     (0.67, 1.5), (1.09, 2.1), (1.09, 1.97), (1.38, 2.42), (1.41, 2.35), (1.77, 2.92), (1.86, 2.96),
     (2.01, 3.06), (2.23, 3.06), (2.42, 2.6), (2.55, 2.27), (2.72, 1.82)],
    [(-0.8, 0.0), (-0.63, 0.2), (-0.44, 0.31), (-0.3, 0.66), (-0.2, 0.84), (-0.11, 0.84), (-0.02, 1.1),
     (0.13, 1.08), (0.24, 1.1), (0.35, 1.2), (0.57, 1.37), (0.67, 1.4), (0.78, 1.55), (0.92, 1.8), (1.08, 1.88),
     (1.38, 2.22), (1.38, 2.34), (1.82, 2.86), (2.01, 3.09)],
    [(-0.82, 0.3), (-0.63, 0.42), (-0.32, 1.33), (-0.21, 1.55), (-0.11, 1.63), (0.1, 1.98), (0.53, 2.1),
     (0.66, 2.12), (0.92, 2.35), (1.07, 2.55), (1.37, 2.93), (1.41, 2.92), (1.79, 3.37), (1.85, 3.28),
     (2.0, 3.67), (2.21, 3.08), (2.55, 2.16)],
    [(-0.83, 0.04), (-0.64, 0.28), (-0.33, 0.69), (-0.19, 0.77), (0.08, 0.95), (0.22, 1.16), (0.34, 1.36),
     (0.54, 1.55), (0.67, 1.65), (1.09, 2.06), (1.09, 2.0), (1.38, 2.43), (1.41, 2.47), (1.77, 2.8),
     (1.86, 2.8), (2.23, 2.6), (2.23, 2.52), (2.42, 2.25), (2.55, 1.84)],
    [(-0.21, 1.26), (-0.12, 1.45), (0.11, 1.72), (0.23, 1.9), (0.54, 2.0), (0.66, 2.1), (0.66, 2.0),
     (0.78, 2.37), (0.9, 2.52), (1.08, 2.65), (1.38, 3.14), (1.38, 3.1), (1.78, 3.68), (1.85, 3.66),
     (2.01, 3.75), (2.22, 3.7), (2.41, 3.45), (2.56, 3.04), (2.72, 2.6)],
    [(-0.32, 0.31), (-0.21, 0.63), (-0.11, 0.78), (0.1, 1.14), (0.22, 1.27), (0.34, 1.21), (0.53, 0.99),
     (0.66, 0.91), (1.07, 1.47), (1.37, 1.9), (1.4, 1.9), (1.79, 2.7)],
    [(-0.43, 0.21), (-0.31, 1.0), (-0.2, 1.31), (-0.11, 1.5), (0.22, 1.93), (0.34, 1.9), (0.55, 1.72),
     (0.67, 1.82), (0.78, 1.95), (0.91, 2.25), (1.09, 2.6), (1.09, 2.55), (1.38, 3.16), (1.41, 3.16),
     (1.79, 3.6), (1.86, 3.65), (2.02, 3.66)],
]
obs_rel_err = 0.1


def lin(pts):
    a = np.array(pts, dtype=float).reshape(-1, 2)
    return 10 ** a[:, 0], 10 ** a[:, 1]


fig, axes = plt.subplots(3, 3, figsize=(12.3, 9.77), dpi=100, sharex=True, sharey=True)
fig.subplots_adjust(left=0.0699, right=0.9984, top=0.9954, bottom=0.1228, wspace=0, hspace=0)

text_y = [0.890, 0.824, 0.752, 0.690, 0.618]

for k, ax in enumerate(axes.flat):
    ax.set_xscale('log')
    ax.set_yscale('log')

    x, y = lin(stellar_unatt[k])
    h_su, = ax.plot(x, y, color='b', ls='-.', lw=1, label='Stellar unattenuated')
    x, y = lin(stellar_att[k])
    h_sa, = ax.plot(x, y, color='orange', ls='-', lw=1, label='Stellar attenuated')

    # nebular: continuum plus individual lines
    c = np.array(nebular_cont[k], dtype=float)
    x, y = lin(c)
    h_ne, = ax.plot(x, y, color='y', ls=':', lw=1, label='Nebular emission')
    nl = np.array(nebular_lines[k], dtype=float)
    base = np.interp(nl[:, 0], c[:, 0], c[:, 1])
    ax.vlines(10 ** nl[:, 0], 10 ** base, 10 ** nl[:, 1], colors='y', linestyles=':', lw=1)

    x, y = lin(dust[k])
    h_du, = ax.plot(x, y, color='r', ls='-', lw=0.9, label='Dust emission')
    x, y = lin(agn[k])
    h_ag, = ax.plot(x, y, color='g', ls='--', lw=2, label='AGN emission')

    m = np.array(model[k], dtype=float)
    x, y = lin(m)
    h_ms, = ax.plot(x, y, color='k', ls='-', lw=2, label='Model spectrum')
    if model_lines[k]:
        sp = np.array(model_lines[k], dtype=float)
        sbase = np.interp(sp[:, 0], m[:, 0], m[:, 1])
        ax.vlines(10 ** sp[:, 0], 10 ** sbase, 10 ** sp[:, 1], colors='k', lw=2)

    x, y = lin(model_fluxes[k])
    h_mf, = ax.plot(x, y, ls='none', marker='o', color='r', ms=6, zorder=5, label='Model flux densities')
    x, y = lin(obs_fluxes[k])
    h_of = ax.errorbar(x, y, yerr=obs_rel_err * y, ls='none', marker='o', mfc='none', mec='b', ecolor='b',
                       ms=7, mew=1.2, elinewidth=1, zorder=6, label='Observed flux densities')

    ax.grid(True, alpha=0.3)
    ax.tick_params(labelsize=10)

    lines = [names[k],
             r"$\chi^2_{\rm red}$ = %.2f" % chi2_red[k],
             r"$i$ =  %.2f (±%.2f)" % (incl[k], incl_err[k]),
             r"$f_{\rm AGN}$ =  %.2f (±%.2f)" % (f_agn[k], f_agn_err[k]),
             r"log($L_{\rm AGN}^{\rm disc}$) =  %.2f (±%.2f)" % (log_ldisc[k], log_ldisc_err[k])]
    for txt, yy in zip(lines, text_y):
        ax.text(0.0315, yy, txt, transform=ax.transAxes, fontsize=9.2, va='baseline')

    if k == 0:
        handles = [h_su, h_ne, h_sa, h_du, h_ag, h_ms, h_mf, h_of]

axes[0, 0].set_xlim(4.9e-3, 8.1e3)
axes[0, 0].set_ylim(1e-2, 9e4)

fig.text(0.0203, 0.559, 'Flux Density [mJy]', rotation=90, fontsize=14.7, ha='center', va='center')
fig.text(0.534, 0.0788, r'Observed wavelength [$\mu$m]', fontsize=14.7, ha='center', va='center')
fig.legend(handles=handles, labels=[h.get_label() for h in handles], loc='center',
           bbox_to_anchor=(0.506, 0.0235), ncol=4, fontsize=9.2)

fig.savefig('out.png', dpi=100)
